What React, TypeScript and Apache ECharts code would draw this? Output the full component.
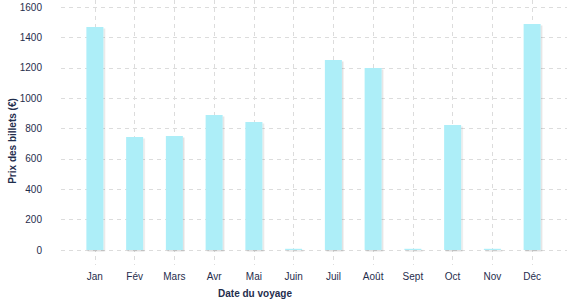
import React, { useEffect, useRef } from "react";
import * as echarts from "echarts";

const months = ["Jan", "Fév", "Mars", "Avr", "Mai", "Juin", "Juil", "Août", "Sept", "Oct", "Nov", "Déc"];
const prices = [1468, 744, 750, 889, 843, 8, 1251, 1198, 8, 823, 8, 1488];
const yMin = 0;
const yMax = 1600;
const yInterval = 200;
const xTitle = "Date du voyage";
const yTitle = "Prix des billets (€)";

const TEXT = "#1f2d4d";
const GRID = "#dcdcdc";
const FONT = "'Liberation Sans', Arial, sans-serif";

export default function App() {
  const ref = useRef<HTMLDivElement>(null);
  useEffect(() => {
    if (!ref.current) return;
    const chart = echarts.init(ref.current, undefined, { renderer: "svg" });
    // plot area: value 0 at y=250, 1600 at y=7; bar grid spans y 0..265
    const pxPerUnit = 243 / (yMax - yMin);
    const barMin = yMin - 15 / pxPerUnit;
    const barMax = yMax + 7 / pxPerUnit;
    chart.setOption({
      animation: false,
      textStyle: { fontFamily: FONT },
      grid: [
        { left: 61, right: 10, top: 7, bottom: 50 },
        { left: 75, right: 25, top: 0, bottom: 35 },
      ],
      xAxis: [
        { type: "value", gridIndex: 0, show: false, min: 0, max: 1 },
        {
          type: "category",
          gridIndex: 1,
          data: months,
          axisLine: { show: false },
          axisTick: { show: false },
          splitLine: {
            show: true,
            alignWithLabel: true,
            lineStyle: { color: GRID, type: [4, 4], width: 1 },
          },
          axisLabel: { color: TEXT, fontSize: 10, margin: 6, fontFamily: FONT },
        },
      ],
      yAxis: [
        {
          type: "value",
          gridIndex: 0,
          min: yMin,
          max: yMax,
          interval: yInterval,
          axisLine: { show: false },
          axisTick: { show: false },
          splitLine: { lineStyle: { color: GRID, type: [4, 4], width: 1 } },
          axisLabel: {
            color: TEXT,
            fontSize: 10,
            margin: 19,
            fontFamily: FONT,
            formatter: (v: number) => String(v),
          },
        },
        { type: "value", gridIndex: 1, show: false, min: barMin, max: barMax },
      ],
      series: [
        {
          type: "bar",
          xAxisIndex: 1,
          yAxisIndex: 1,
          data: prices,
          barWidth: 17,
          itemStyle: {
            color: "#adeef8",
            shadowColor: "rgba(0,0,0,0.12)",
            shadowOffsetX: 1.5,
            shadowOffsetY: 1.5,
            shadowBlur: 0,
          },
        },
      ],
      graphic: [
        {
          type: "text",
          x: 255,
          y: 293,
          style: {
            text: xTitle,
            fill: TEXT,
            font: `bold 10px ${FONT}`,
            align: "center",
            verticalAlign: "middle",
          },
        },
        {
          type: "text",
          x: 12,
          y: 141,
          rotation: Math.PI / 2,
          style: {
            text: yTitle,
            fill: TEXT,
            font: `bold 10px ${FONT}`,
            align: "center",
            verticalAlign: "middle",
          },
        },
      ],
    });
    return () => chart.dispose();
  }, []);
  return <div ref={ref} style={{ width: 577, height: 300, position: "absolute", left: 0, top: 0 }} />;
}
